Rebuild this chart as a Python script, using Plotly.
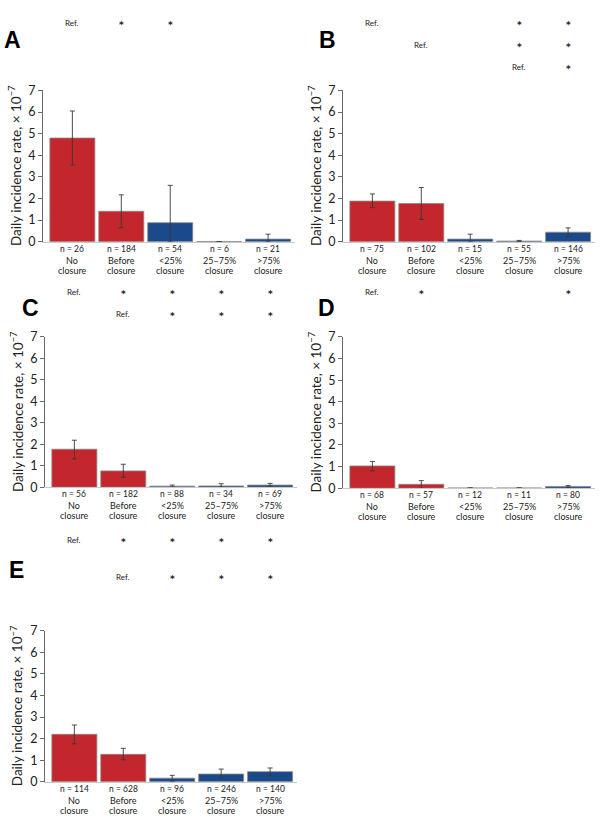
import plotly.graph_objects as go

W, H = 600, 833

categories = ["No<br>closure", "Before<br>closure", "&lt;25%<br>closure", "25–75%<br>closure", "&gt;75%<br>closure"]
bar_colors = ["#C3262C", "#C3262C", "#1B4A8A", "#1B4A8A", "#1B4A8A"]

panel_letters = ["A", "B", "C", "D", "E"]

# rates (x 10^-7), upper and lower CI limits
rate_A = [4.80, 1.41, 0.88, 0.01, 0.12]
upper_A = [6.05, 2.17, 2.61, None, 0.35]
lower_A = [3.55, 0.65, 0.00, None, 0.00]
n_A = [26, 184, 54, 6, 21]
sig_A = [["Ref.", "*", "*", "", ""]]

rate_B = [1.88, 1.77, 0.12, 0.03, 0.44]
upper_B = [2.21, 2.51, 0.35, 0.06, 0.64]
lower_B = [1.58, 1.03, 0.00, 0.01, 0.24]
n_B = [75, 102, 15, 55, 146]
sig_B = [["Ref.", "", "", "*", "*"],
         ["", "Ref.", "", "*", "*"],
         ["", "", "", "Ref.", "*"]]

rate_C = [1.77, 0.76, 0.05, 0.06, 0.10]
upper_C = [2.19, 1.07, 0.10, 0.16, 0.18]
lower_C = [1.32, 0.46, 0.00, 0.00, 0.05]
n_C = [56, 182, 88, 34, 69]
sig_C = [["Ref.", "*", "*", "*", "*"],
         ["", "Ref.", "*", "*", "*"]]

rate_D = [1.03, 0.18, 0.01, 0.01, 0.08]
upper_D = [1.24, 0.35, None, None, 0.12]
lower_D = [0.80, 0.00, None, None, 0.04]
n_D = [68, 57, 12, 11, 80]
sig_D = [["Ref.", "*", "", "", "*"]]

rate_E = [2.20, 1.27, 0.17, 0.36, 0.47]
upper_E = [2.63, 1.55, 0.30, 0.59, 0.64]
lower_E = [1.76, 1.02, 0.03, 0.17, 0.30]
n_E = [114, 628, 96, 246, 140]
sig_E = [["Ref.", "*", "*", "*", "*"],
         ["", "Ref.", "*", "*", "*"]]

# layout in pixels: (x0, x1, ytop, ybottom), letter pos, sig row y
panels = [
    dict(rate=rate_A, up=upper_A, lo=lower_A, n=n_A, sig=sig_A,
         box=(43, 295, 84, 238), letter=(12, 33), sig_y=[15]),
    dict(rate=rate_B, up=upper_B, lo=lower_B, n=n_B, sig=sig_B,
         box=(343, 595, 84, 238), letter=(327, 33), sig_y=[15, 38, 60]),
    dict(rate=rate_C, up=upper_C, lo=lower_C, n=n_C, sig=sig_C,
         box=(45, 297, 335, 488), letter=(30, 305), sig_y=[289, 312]),
    dict(rate=rate_D, up=upper_D, lo=lower_D, n=n_D, sig=sig_D,
         box=(343, 595, 335, 489), letter=(326, 305), sig_y=[289]),
    dict(rate=rate_E, up=upper_E, lo=lower_E, n=n_E, sig=sig_E,
         box=(45, 297, 634, 788), letter=(16, 572), sig_y=[542, 579]),
]

def px(x):
    return x / W

def py(y):
    return 1 - y / H

fig = go.Figure()
annotations = []
layout_axes = {}
idx = list(range(5))
TXT = "#222"

for i, p in enumerate(panels):
    k = "" if i == 0 else str(i + 1)
    xa, ya = "x" + k, "y" + k
    x0, x1, yt, yb = p["box"]
    plus = [None if (u is None) else round(u - r, 4) for u, r in zip(p["up"], p["rate"])]
    minus = [None if (l is None) else round(r - l, 4) for l, r in zip(p["lo"], p["rate"])]
    fig.add_trace(go.Bar(
        x=idx, y=p["rate"], xaxis=xa, yaxis=ya, width=0.92,
        marker=dict(color=bar_colors, line=dict(color="#8a8a8a", width=0.8)),
        error_y=dict(type="data", symmetric=False, array=plus, arrayminus=minus,
                     color="#3a3a3a", thickness=0.9, width=2.5),
        showlegend=False, hoverinfo="skip",
    ))
    layout_axes["xaxis" + k] = dict(
        domain=[px(x0), px(x1)], anchor=ya, range=[-0.6, 4.55],
        showline=True, linecolor="#c8c8c8", linewidth=1, showticklabels=False,
        ticks="", showgrid=False, zeroline=False, fixedrange=True,
    )
    layout_axes["yaxis" + k] = dict(
        domain=[py(yb), py(yt)], anchor=xa, range=[0, 7], dtick=1,
        showline=True, linecolor="#6a6a6a", linewidth=1, ticks="outside",
        ticklen=4, tickcolor="#6a6a6a", showgrid=False, zeroline=False,
        tickfont=dict(family="Lato", size=12.5, color=TXT), fixedrange=True,
    )
    annotations.append(dict(
        xref="paper", yref="paper", x=px(x0 - 28), y=py((yt + yb) / 2),
        text="Daily incidence rate, × 10<sup>−7</sup>", textangle=-90,
        showarrow=False, xanchor="center", yanchor="middle",
        font=dict(family="Lato", size=13.5, color=TXT),
    ))
    for j in idx:
        annotations.append(dict(
            xref=xa, yref="paper", x=j, y=py(yb + 7), yanchor="middle",
            text="n = %d" % p["n"][j], showarrow=False,
            font=dict(family="Lato", size=8.5, color=TXT),
        ))
        for li, line in enumerate(categories[j].split("<br>")):
            annotations.append(dict(
                xref=xa, yref="paper", x=j, y=py(yb + 19 + 10 * li), yanchor="middle",
                text=line, showarrow=False,
                font=dict(family="Lato", size=9, color=TXT),
            ))
    for row, ry in zip(p["sig"], p["sig_y"]):
        for j, s in enumerate(row):
            if s == "Ref.":
                annotations.append(dict(
                    xref=xa, yref="paper", x=j, y=py(ry), yanchor="middle",
                    text=s, showarrow=False,
                    font=dict(family="Lato", size=8, color=TXT),
                ))
            elif s:
                annotations.append(dict(
                    xref=xa, yref="paper", x=j, y=py(ry + 2), yanchor="middle",
                    text="<b>*</b>", showarrow=False,
                    font=dict(family="DejaVu Sans", size=9, color=TXT),
                ))
    annotations.append(dict(
        xref="paper", yref="paper", x=px(p["letter"][0]), y=py(p["letter"][1]),
        xanchor="center", yanchor="middle", text="<b>%s</b>" % panel_letters[i],
        showarrow=False, font=dict(family="Liberation Sans", size=23, color="#000"),
    ))

fig.update_layout(
    width=W, height=H, margin=dict(l=0, r=0, t=0, b=0),
    paper_bgcolor="white", plot_bgcolor="white",
    annotations=annotations, bargap=0.08, **layout_axes,
)

fig.write_html("out.html", config={"displayModeBar": False},
               post_script="document.body.style.margin='0';document.body.style.overflow='hidden';")
